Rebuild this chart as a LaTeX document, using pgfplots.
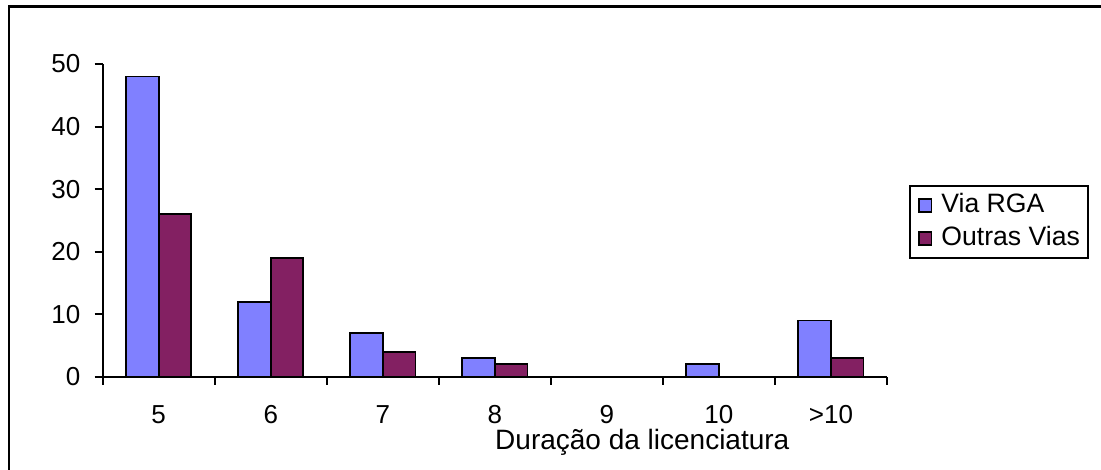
\documentclass[border=0pt]{standalone}
\usepackage{pgfplots}
\pgfplotsset{compat=1.18}
\usepackage{fontspec}
\setmainfont{Liberation Sans}
\definecolor{rga}{HTML}{8080FF}
\definecolor{outras}{HTML}{832062}
\pgfplotsset{sqlegend/.style={legend image code/.code={\draw[##1, line width=0.8pt] (0pt,-3.2pt) rectangle (6.4pt,3.2pt);}}}
\begin{document}
\begin{tikzpicture}
\path[use as bounding box] (0,0) rectangle (550.5pt,-235pt);
\draw[line width=1.3pt] (4.4pt,-250pt) -- (4.4pt,-3.4pt) -- (560pt,-3.4pt);
\begin{axis}[
  at={(51.35pt,-188.35pt)}, anchor=south west,
  scale only axis, width=392.15pt, height=156.35pt,
  xmin=-0.5, xmax=6.5, ymin=0, ymax=50,
  axis x line=bottom, axis y line=left,
  axis line style={-, line width=1pt},
  ybar=0pt, bar width=16.3pt,
  xtick={0,...,6}, xticklabels={5,6,7,8,9,10,>10},
  minor xtick={-0.5,0.5,...,6.5},
  major x tick style={draw=none},
  ytick={0,10,...,50},
  tick align=outside, major tick length=4pt, minor tick length=4pt,
  every tick/.style={line width=1pt, black},
  font=\fontsize{13}{15}\selectfont,
  /pgf/number format/assume math mode=true,
  yticklabel={\pgfmathprintnumber{\tick}},
  xticklabel style={anchor=base, yshift=-19.4pt, inner sep=0pt},
  yticklabel style={anchor=east, inner sep=0pt, xshift=-7pt},
  xlabel={Duração da licenciatura},
  xlabel style={at={(axis description cs:0.688,0)}, anchor=base, yshift=-36.6pt, inner sep=0pt,
    font=\fontsize{14}{16}\selectfont},
  legend style={at={(axis description cs:1.028,0.613)}, anchor=north west,
    draw=black, line width=1pt, font=\fontsize{13.3}{15}\selectfont,
    inner xsep=4pt, inner ysep=4pt, row sep=5pt,
    nodes={inner sep=0pt, text height=9pt, text depth=2.5pt},
    /tikz/every odd column/.append style={column sep=4.5pt}},
  legend cell align=left,
]
\addplot[fill=rga, draw=black, line width=0.9pt, sqlegend]
  coordinates {(0,48) (1,12) (2,7) (3,3) (4,0) (5,2) (6,9)};
\addlegendentry{Via RGA}
\addplot[fill=outras, draw=black, line width=0.9pt, sqlegend]
  coordinates {(0,26) (1,19) (2,4) (3,2) (4,0) (5,0) (6,3)};
\addlegendentry{Outras Vias}
\end{axis}
\end{tikzpicture}
\end{document}
